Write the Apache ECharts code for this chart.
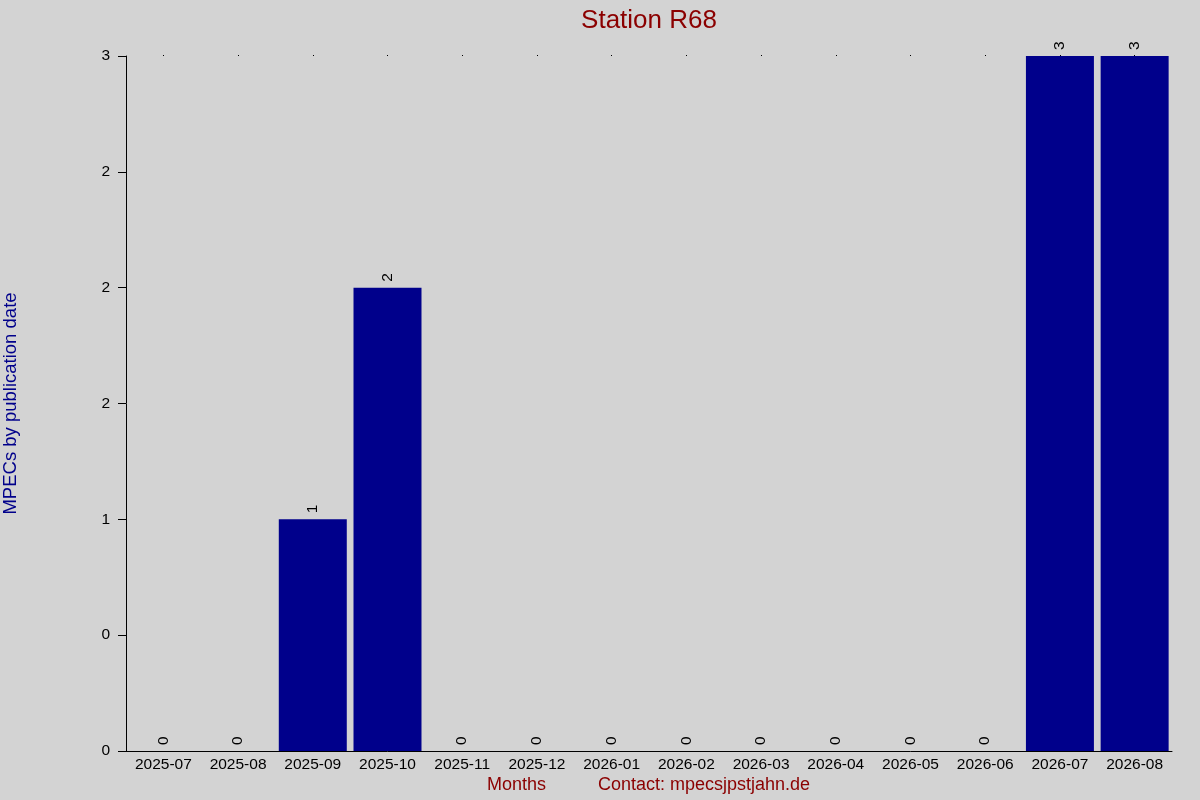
<!DOCTYPE html>
<html>
<head>
<meta charset="utf-8">
<script src="https://cdn.jsdelivr.net/npm/echarts@6/dist/echarts.min.js"></script>
<style>
html,body{margin:0;padding:0;background:#d3d3d3;}
#chart{width:1200px;height:800px;}
</style>
</head>
<body>
<div id="chart"></div>
<script>
const months = ["2025-07","2025-08","2025-09","2025-10","2025-11","2025-12","2026-01","2026-02","2026-03","2026-04","2026-05","2026-06","2026-07","2026-08"];
const mpecCounts = [0,0,1,2,0,0,0,0,0,0,0,0,3,3];
const yTickLabels = ["0","0","1","2","2","2","3"];
const titleText = "Station R68";
const yAxisTitle = "MPECs by publication date";
const xAxisTitle = "Months";
const contactText = "Contact: mpecsjpstjahn.de";

const FONT = "Liberation Sans, Arial, sans-serif";
const chart = echarts.init(document.getElementById('chart'));
chart.setOption({
  backgroundColor: '#d3d3d3',
  animation: false,
  title: {
    text: titleText,
    left: 644, top: 3, textAlign: 'center',
    textStyle: {color: '#8b0000', fontSize: 26, fontWeight: 'normal', fontFamily: FONT}
  },
  grid: {left: 126, right: 28, top: 56, bottom: 49, containLabel: false, outerBoundsMode: 'none'},
  xAxis: [{
    type: 'category', data: months, position: 'bottom',
    axisLine: {show: true, lineStyle: {color: '#000', width: 1}},
    axisTick: {show: false},
    axisLabel: {color: '#000', fontSize: 15.5, fontFamily: FONT, margin: 6, interval: 0}
  }, {
    type: 'category', data: months, position: 'top',
    axisLine: {show: false},
    axisTick: {show: true, alignWithLabel: true, length: 1, lineStyle: {color: '#000'}},
    axisLabel: {show: false}
  }],
  yAxis: {
    type: 'value', min: 0, max: 3, interval: 0.5,
    name: yAxisTitle, nameLocation: 'middle', nameRotate: 90, nameGap: 106,
    nameTextStyle: {color: '#00008b', fontSize: 18.5, fontFamily: FONT},
    axisLine: {show: true, lineStyle: {color: '#000', width: 1}},
    axisTick: {show: true, length: 8, lineStyle: {color: '#000'}},
    splitLine: {show: false},
    axisLabel: {
      color: '#000', fontSize: 15.5, fontFamily: FONT, margin: 16,
      formatter: function (v) { return yTickLabels[Math.round(v / 0.5)]; }
    }
  },
  series: [{
    type: 'bar', data: mpecCounts, xAxisIndex: 0,
    barCategoryGap: '9%',
    itemStyle: {color: '#00008b'},
    label: {
      show: true, position: 'top', rotate: 90, align: 'left', verticalAlign: 'middle',
      distance: 6, color: '#000', fontSize: 15.5, fontFamily: FONT
    }
  }],
  graphic: [
    {type: 'text', left: 487, top: 776, style: {text: xAxisTitle, fill: '#8b0000', font: '18px ' + FONT}},
    {type: 'text', left: 598, top: 776, style: {text: contactText, fill: '#8b0000', font: '18px ' + FONT}}
  ]
});
</script>
</body>
</html>
